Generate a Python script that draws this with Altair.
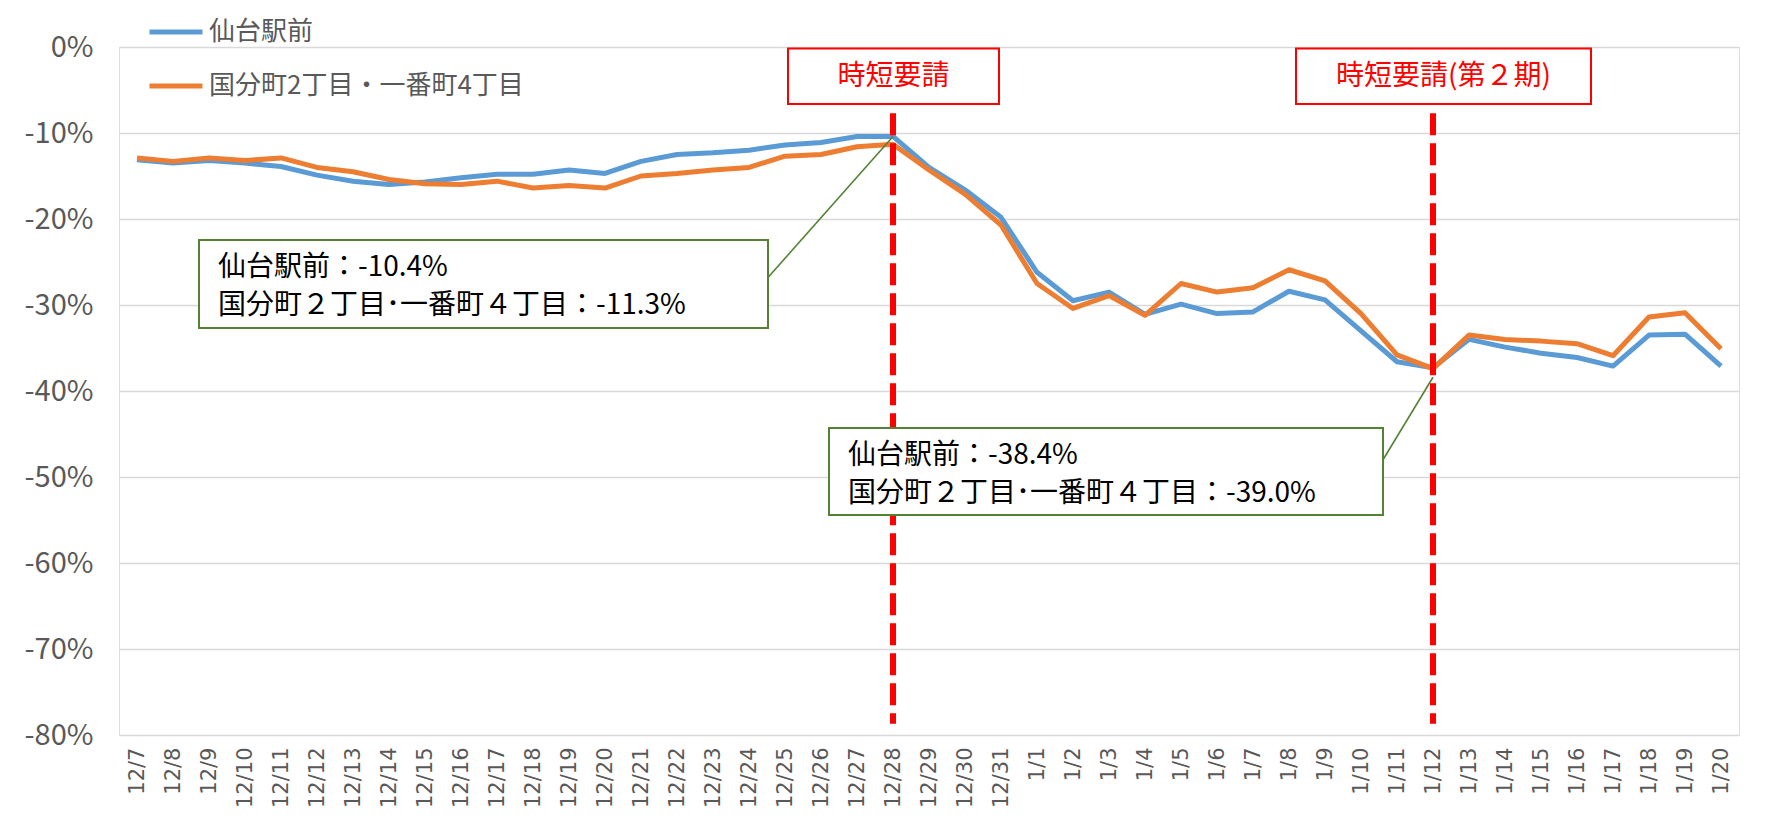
import altair as alt
import pandas as pd

dates = ["12/7", "12/8", "12/9", "12/10", "12/11", "12/12", "12/13", "12/14", "12/15",
         "12/16", "12/17", "12/18", "12/19", "12/20", "12/21", "12/22", "12/23", "12/24",
         "12/25", "12/26", "12/27", "12/28", "12/29", "12/30", "12/31",
         "1/1", "1/2", "1/3", "1/4", "1/5", "1/6", "1/7", "1/8", "1/9", "1/10",
         "1/11", "1/12", "1/13", "1/14", "1/15", "1/16", "1/17", "1/18", "1/19", "1/20"]

sendai = [-13.1, -13.5, -13.2, -13.5, -13.9, -14.9, -15.6, -16.0, -15.7, -15.2, -14.8,
          -14.8, -14.3, -14.7, -13.3, -12.5, -12.3, -12.0, -11.4, -11.1, -10.4, -10.4,
          -14.0, -16.6, -19.8,
          -26.2, -29.5, -28.5, -31.1, -29.9, -31.0, -30.8, -28.4, -29.4, -33.0, -36.6,
          -37.3, -34.0, -34.9, -35.6, -36.1, -37.1, -33.5, -33.4, -37.1]

kokubuncho = [-12.9, -13.3, -12.9, -13.2, -12.9, -14.0, -14.5, -15.4, -15.9, -16.0, -15.6,
              -16.4, -16.1, -16.4, -15.0, -14.7, -14.3, -14.0, -12.7, -12.5, -11.6, -11.3,
              -14.3, -17.1, -20.7,
              -27.5, -30.4, -28.9, -31.2, -27.5, -28.5, -28.0, -25.9, -27.2, -31.0, -35.8,
              -37.4, -33.5, -34.0, -34.2, -34.5, -35.9, -31.4, -30.9, -35.1]

series_names = ["仙台駅前", "国分町2丁目・一番町4丁目"]
series_colors = ["#5B9BD5", "#ED7D31"]

event_dates = ["12/28", "1/12"]
event_labels = ["時短要請", "時短要請(第２期)"]

note1 = ["仙台駅前：-10.4%", "国分町２丁目･一番町４丁目：-11.3%"]
note2 = ["仙台駅前：-38.4%", "国分町２丁目･一番町４丁目：-39.0%"]
note_targets = [("12/28", -10.4), ("1/12", -38.4)]

y_ticks = [0, -10, -20, -30, -40, -50, -60, -70, -80]

JP = "Noto Sans CJK JP"

df = pd.DataFrame({
    "date": dates * 2,
    "value": sendai + kokubuncho,
    "series": [series_names[0]] * len(dates) + [series_names[1]] * len(dates),
})

W, H = 1620, 688

xs = alt.X("date:N", sort=dates,
           scale=alt.Scale(type="point", domain=dates, padding=0.5),
           axis=alt.Axis(title=None, labelAngle=270, labelFont="DejaVu Sans",
                         labelFontSize=21, labelColor="#595959", labelPadding=12,
                         ticks=False, domain=False, grid=False, labelOverlap=False))
ys = alt.Y("value:Q",
           scale=alt.Scale(domain=[-80, 0], nice=False),
           axis=alt.Axis(title=None, values=y_ticks, labelExpr="datum.value + '%'",
                         labelFont=JP, labelFontSize=29, labelColor="#595959",
                         labelPadding=26, ticks=False, domain=False, grid=True,
                         gridColor="#d9d9d9", gridWidth=1.6))
color = alt.Color("series:N",
                  scale=alt.Scale(domain=series_names, range=series_colors),
                  legend=alt.Legend(title=None, orient="none", legendX=28, legendY=-44,
                                    symbolType="stroke", symbolStrokeWidth=5,
                                    symbolSize=2800, labelFont=JP, labelFontSize=26,
                                    labelColor="#595959", rowPadding=12, labelOffset=4,
                                    labelLimit=0))

base = alt.Chart(df)
line_blue = base.transform_filter(alt.datum.series == series_names[0]).mark_line(
    strokeWidth=5, strokeJoin="round").encode(x=xs, y=ys, color=color)
line_orange = base.transform_filter(alt.datum.series == series_names[1]).mark_line(
    strokeWidth=5, strokeJoin="round").encode(x=xs, y=ys, color=color)

ev_df = pd.DataFrame({"date": event_dates, "label": event_labels})
vrules = alt.Chart(ev_df).mark_rule(color="#FF0000", strokeWidth=6,
                                    strokeDash=[22, 8]).encode(
    x=alt.X("date:N", sort=dates), y=alt.datum(-7.7), y2=alt.datum(-78.7))

# red labelled boxes
box_specs = [(669, 880), (1177, 1472)]
red_boxes = []
for (x0, x1), lab in zip(box_specs, event_labels):
    one = pd.DataFrame({"k": [0]})
    red_boxes.append(alt.Chart(one).mark_rect(fill="white", stroke="#FF0000",
                                              strokeWidth=2).encode(
        x=alt.value(x0), x2=alt.value(x1), y=alt.value(1.5), y2=alt.value(57)))
    red_boxes.append(alt.Chart(one).mark_text(text=lab, font=JP, fontSize=28,
                                              color="#FF0000", align="center",
                                              baseline="middle").encode(
        x=alt.value((x0 + x1) / 2), y=alt.value(30)))

# green annotation boxes with leader lines
note_specs = [
    dict(lines=note1, box=(80, 649, 193, 281), tx=99, ty=(221, 259), lead=(645, 235)),
    dict(lines=note2, box=(710, 1264, 381, 468), tx=729, ty=(409, 447), lead=(1259, 421)),
]
green = []
for spec, (tdate, tval) in zip(note_specs, note_targets):
    one = pd.DataFrame({"k": [0]})
    bx0, bx1, by0, by1 = spec["box"]
    tgt = pd.DataFrame({"date": [tdate], "value": [tval]})
    green.append(alt.Chart(tgt).mark_rule(color="#548235", strokeWidth=1.6).encode(
        x=alt.X("date:N", sort=dates), y=alt.Y("value:Q"),
        x2=alt.value(spec["lead"][0]), y2=alt.value(spec["lead"][1])))
    green.append(alt.Chart(one).mark_rect(fill="white", stroke="#548235",
                                          strokeWidth=2).encode(
        x=alt.value(bx0), x2=alt.value(bx1), y=alt.value(by0), y2=alt.value(by1)))
    for txt, ty in zip(spec["lines"], spec["ty"]):
        green.append(alt.Chart(one).mark_text(text=txt, font=JP, fontSize=28,
                                              color="#000000", align="left",
                                              baseline="middle").encode(
            x=alt.value(spec["tx"]), y=alt.value(ty)))

chart = alt.layer(line_blue, line_orange, vrules, *red_boxes, *green).properties(
    width=W, height=H,
    autosize=alt.AutoSizeParams(type="none"),
    padding={"left": 111, "top": 39, "right": 30, "bottom": 85},
).configure_view(strokeWidth=0).configure(background="white")

chart.save("out.html", embed_options={"renderer": "svg", "actions": False})
